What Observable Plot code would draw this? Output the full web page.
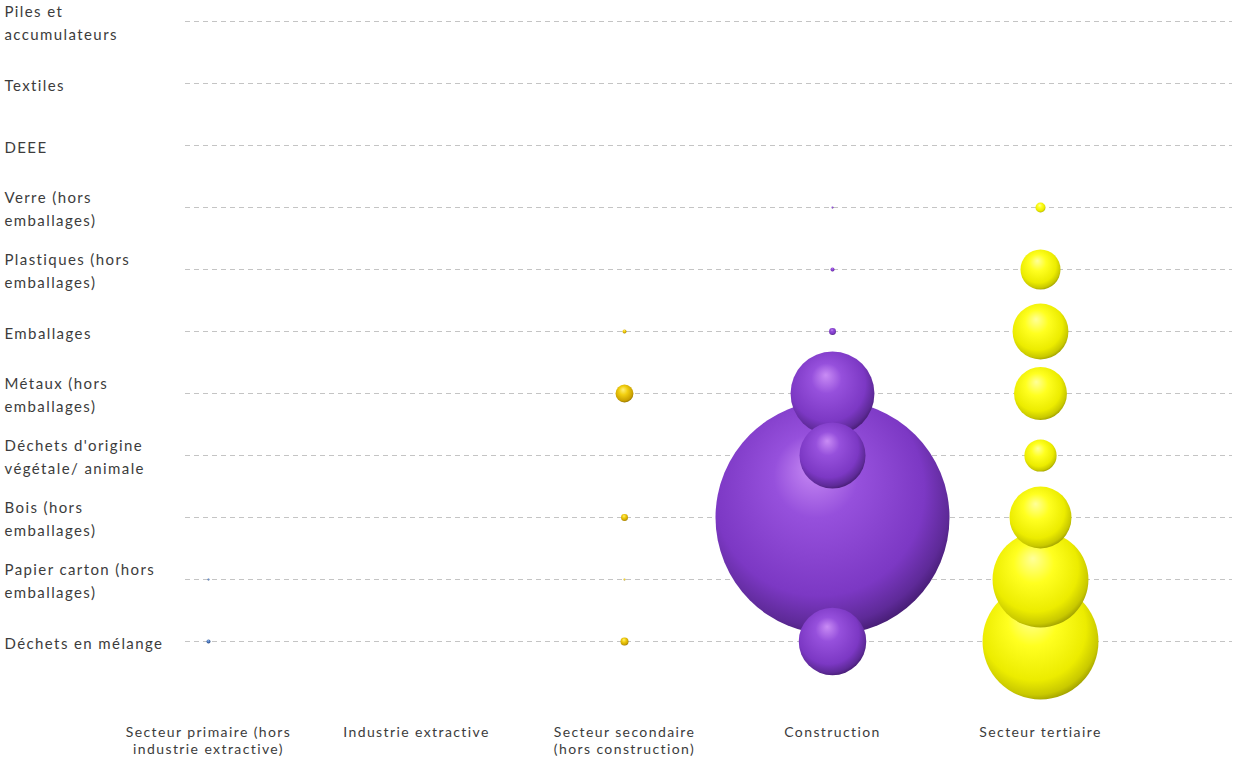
<!DOCTYPE html>
<html>
<head>
<meta charset="utf-8">
<script src="https://cdn.jsdelivr.net/npm/d3@7"></script>
<script src="https://cdn.jsdelivr.net/npm/@observablehq/plot@0.6"></script>
<style>
  html, body { margin: 0; padding: 0; background: #fff; }
  #chart { width: 1234px; height: 759px; }
</style>
</head>
<body>
<div id="chart"></div>
<script>
// Waste categories (top to bottom) and their tick labels
const categories = [
  "Piles et accumulateurs", "Textiles", "DEEE", "Verre (hors emballages)",
  "Plastiques (hors emballages)", "Emballages", "Métaux (hors emballages)",
  "Déchets d'origine végétale/ animale", "Bois (hors emballages)",
  "Papier carton (hors emballages)", "Déchets en mélange"
];
const categoryLabels = [
  "Piles et\naccumulateurs", "Textiles", "DEEE", "Verre (hors\nemballages)",
  "Plastiques (hors\nemballages)", "Emballages", "Métaux (hors\nemballages)",
  "Déchets d'origine\nvégétale/ animale", "Bois (hors\nemballages)",
  "Papier carton (hors\nemballages)", "Déchets en mélange"
];
// Sectors (left to right) and their tick labels
const sectors = [
  "Secteur primaire (hors industrie extractive)", "Industrie extractive",
  "Secteur secondaire (hors construction)", "Construction", "Secteur tertiaire"
];
const sectorLabels = [
  "Secteur primaire (hors\nindustrie extractive)", "Industrie extractive",
  "Secteur secondaire\n(hors construction)", "Construction", "Secteur tertiaire"
];
// Bubble sizes per sector, in category order (relative quantities, estimated)
const primaire     = [0, 0, 0, 0,   0,    0,   0,   0,    0,  0.1, 0.4];
const extractive   = [0, 0, 0, 0,   0,    0,   0,   0,    0,  0,   0];
const secondaire   = [0, 0, 0, 0,   0,  0.4,   8,   0,  1.2,  0.1, 1.6];
const construction = [0, 0, 0, 0.1, 0.4, 1.2, 176, 109, 1369, 0,   114];
const tertiaire    = [0, 0, 0, 2.5, 40,  78,  70,  26,   96, 230,  336];

const seriesValues = [primaire, extractive, secondaire, construction, tertiaire];
const sectorFill = ["url(#gBlue)", "url(#gBlue)", "url(#gGold)", "url(#gPurple)", "url(#gYellow)"];

const rows = [];
sectors.forEach((s, i) => {
  seriesValues[i].forEach((v, j) => {
    if (v > 0) rows.push({sector: s, category: categories[j], value: v, fill: sectorFill[i]});
  });
});
rows.sort((a, b) => b.value - a.value);

const catLabel = new Map(categories.map((c, i) => [c, categoryLabels[i]]));
const secLabel = new Map(sectors.map((s, i) => [s, sectorLabels[i]]));

const plot = Plot.plot({
  width: 1234,
  height: 759,
  marginLeft: 185,
  marginRight: 2,
  marginTop: 0,
  marginBottom: 44,
  style: {fontFamily: "Lato, 'Open Sans', sans-serif", fontSize: "15px", color: "#3c3c3c", letterSpacing: "1.4px", background: "#fff"},
  x: {type: "point", domain: sectors, range: [208, 1040], padding: 0, axis: null, label: null},
  y: {type: "point", domain: categories, range: [20, 641], padding: 0, axis: null, label: null},
  r: {type: "sqrt", domain: [0, 1369], range: [0, 117]},
  marks: [
    Plot.ruleY(categories, {y: d => d, stroke: "#c4c4c4", strokeDasharray: "5,4", strokeWidth: 1}),
    Plot.axisY({tickSize: 0, textAnchor: "start", dx: -172, lineHeight: 1.5, label: null,
      tickFormat: d => catLabel.get(d), fill: "#3c3c3c"}),
    Plot.axisX({anchor: "bottom", tickSize: 0, lineAnchor: "top", lineHeight: 1.25, label: null,
      fontSize: 14, tickFormat: d => secLabel.get(d), fill: "#3c3c3c"}),
    Plot.dot(rows, {x: "sector", y: "category", r: "value", fill: "fill", stroke: null, sort: null})
  ]
});

document.getElementById("chart").appendChild(plot);

// 3D-looking radial gradients for the bubbles
const defs = d3.select(plot).insert("defs", ":first-child");
function grad(id, stops) {
  const g = defs.append("radialGradient").attr("id", id)
    .attr("cx", "0.45").attr("cy", "0.42").attr("r", "0.6")
    .attr("fx", "0.42").attr("fy", "0.28");
  stops.forEach(([o, c]) => g.append("stop").attr("offset", o).attr("stop-color", c));
}
grad("gPurple", [[0, "#c98cf5"], [0.3, "#9650dc"], [0.75, "#7c38c4"], [0.92, "#5e2a98"], [1, "#451c72"]]);
grad("gYellow", [[0, "#ffff9a"], [0.35, "#ffff20"], [0.75, "#ecec00"], [0.92, "#c9c900"], [1, "#9e9e00"]]);
grad("gGold",   [[0, "#fff07a"], [0.4, "#f2cf10"], [0.85, "#c9a000"], [1, "#8f7000"]]);
grad("gBlue",   [[0, "#9ab8e8"], [0.5, "#4a78c0"], [1, "#2a4a80"]]);
</script>
</body>
</html>
